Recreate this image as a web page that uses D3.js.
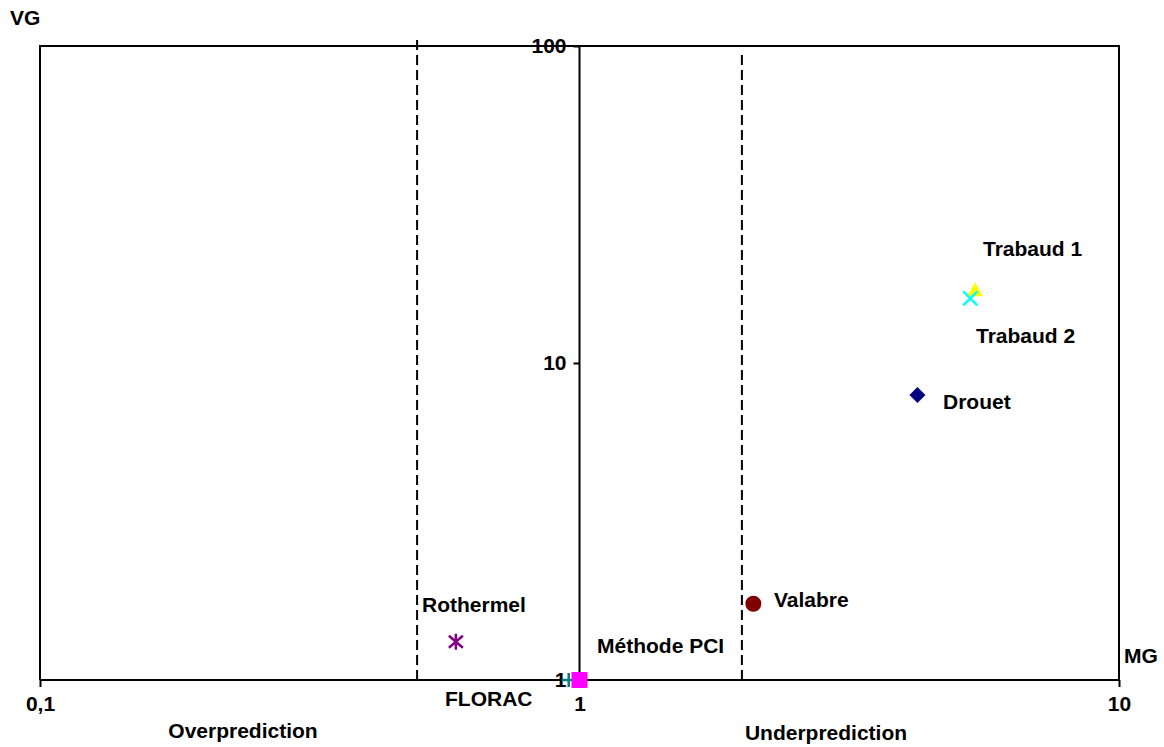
<!DOCTYPE html>
<html>
<head>
<meta charset="utf-8">
<script src="https://cdn.jsdelivr.net/npm/d3@7"></script>
<style>
  body { margin: 0; background: #fff; }
  text { font-family: "Liberation Sans", Arial, sans-serif; font-weight: bold; font-size: 21px; fill: #000; }
</style>
</head>
<body>
<div class="chartContainer"></div>
<script>
// models and their (MG, VG) scores
var models   = ["Trabaud 1", "Trabaud 2", "Drouet", "Valabre", "Rothermel", "FLORAC", "Méthode PCI"];
var mgValues = [5.41, 5.30, 4.23, 2.10, 0.59, 0.955, 1.0];
var vgValues = [16.8, 16.0, 7.93, 1.74, 1.32, 1.0, 1.0];

// factor-of-two limits (dashed)
var limitX    = [0.5, 2];
var limitVTop = [108, 95];

var xTicks      = [0.1, 1, 10];
var xTickLabels = ["0,1", "1", "10"];
var yTicks      = [1, 10, 100];
var yTickLabels = ["1", "10", "100"];

var width  = 1164,
    height = 747;

var svg = d3.select(".chartContainer")
    .append("svg")
    .attr("width", width)
    .attr("height", height);

var x = d3.scaleLog().domain([0.1, 10]).range([40, 1119]);
var y = d3.scaleLog().domain([1, 100]).range([680, 46]);

// frame: left, top, right
svg.append("path")
    .attr("d", "M" + x(0.1) + "," + y(1) + "V" + y(100) + "H" + x(10) + "V" + y(1))
    .attr("fill", "none")
    .attr("stroke", "#000")
    .attr("stroke-width", 2);

// dashed limit lines
svg.selectAll(".limit")
    .data(limitX)
    .enter()
    .append("line")
    .attr("class", "limit")
    .attr("x1", function (d) { return x(d); })
    .attr("x2", function (d) { return x(d); })
    .attr("y1", y(1))
    .attr("y2", function (d, i) { return y(limitVTop[i]); })
    .attr("stroke", "#000")
    .attr("stroke-width", 2)
    .attr("stroke-dasharray", "10,5");

// x axis along VG = 1
var xAxis = d3.axisBottom(x)
    .tickValues(xTicks)
    .tickFormat(function (d, i) { return xTickLabels[i]; })
    .tickSize(7)
    .tickPadding(8);
var gx = svg.append("g")
    .attr("transform", "translate(0," + y(1) + ")")
    .call(xAxis);
gx.select(".domain").attr("stroke-width", 2).attr("d", "M" + x(0.1) + ",0H" + x(10));
gx.selectAll(".tick line").attr("stroke-width", 2);
gx.selectAll("text").attr("font-size", null).attr("font-family", null).attr("dy", "0.75em");

// y axis along MG = 1
var yAxis = d3.axisLeft(y)
    .tickValues(yTicks)
    .tickFormat(function (d, i) { return yTickLabels[i]; })
    .tickSize(6)
    .tickPadding(7);
var gy = svg.append("g")
    .attr("transform", "translate(" + x(1) + ",0)")
    .call(yAxis);
gy.select(".domain").attr("stroke-width", 2).attr("d", "M0," + y(1) + "V" + y(100));
gy.selectAll(".tick line").attr("stroke-width", 2);
gy.selectAll("text").attr("font-size", null).attr("font-family", null);

// markers
var markers = [
    { type: d3.symbolTriangle, size: 110, fill: "#ffff00" },
    { type: "cross",  color: "#00ffff" },
    { type: "diamond", fill: "#000080" },
    { type: d3.symbolCircle, size: 200, fill: "#800000" },
    { type: "star",   color: "#800080" },
    { type: "plus",   color: "#008080" },
    { type: d3.symbolSquare, size: 256, fill: "#ff00ff" }
];

var pts = svg.selectAll(".pt")
    .data(models)
    .enter()
    .append("g")
    .attr("class", "pt")
    .attr("transform", function (d, i) {
        return "translate(" + x(mgValues[i]) + "," + y(vgValues[i]) + ")";
    });

pts.each(function (d, i) {
    var m = markers[i], g = d3.select(this), r = 7;
    if (m.type === "cross") {
        g.append("path").attr("d", "M-" + r + ",-" + r + "L" + r + "," + r + "M-" + r + "," + r + "L" + r + ",-" + r)
            .attr("stroke", m.color).attr("stroke-width", 2.5);
    } else if (m.type === "plus") {
        g.append("path").attr("d", "M-" + r + ",0H" + r + "M0,-" + r + "V" + r)
            .attr("stroke", m.color).attr("stroke-width", 2.5);
    } else if (m.type === "star") {
        g.append("path").attr("d", "M-7,-6L7,6M-7,6L7,-6M0,-8V8")
            .attr("stroke", m.color).attr("stroke-width", 2.5);
    } else if (m.type === "diamond") {
        g.append("path").attr("d", "M0,-8L8,0L0,8L-8,0Z")
            .attr("fill", m.fill);
    } else {
        g.append("path").attr("d", d3.symbol().type(m.type).size(m.size)())
            .attr("fill", m.fill);
    }
});

// point labels
var labelPos = [
    [983, 256], [976, 343], [943, 409], [774, 607],
    [422, 612], [445, 706], [597, 653]
];
svg.selectAll(".lbl")
    .data(models)
    .enter()
    .append("text")
    .attr("class", "lbl")
    .attr("x", function (d, i) { return labelPos[i][0]; })
    .attr("y", function (d, i) { return labelPos[i][1]; })
    .text(function (d) { return d; });

// axis titles
svg.append("text").attr("x", 10).attr("y", 25).text("VG");
svg.append("text").attr("x", 1124).attr("y", 663).text("MG");
svg.append("text").attr("x", 243).attr("y", 738).attr("text-anchor", "middle").text("Overprediction");
svg.append("text").attr("x", 826).attr("y", 740).attr("text-anchor", "middle").text("Underprediction");
</script>
</body>
</html>
